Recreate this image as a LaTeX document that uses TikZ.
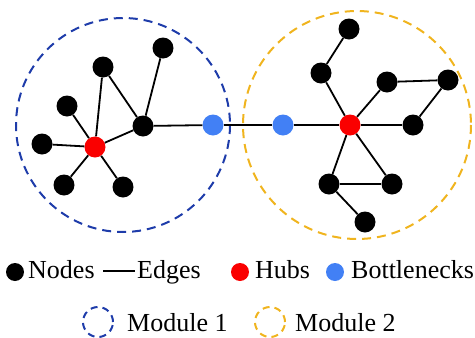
\documentclass[tikz,border=0pt]{standalone}
\usepackage{fontspec}
\setmainfont{Liberation Serif}
\definecolor{modblue}{RGB}{30,60,170}
\definecolor{modyellow}{RGB}{240,180,30}
\definecolor{hubred}{RGB}{250,0,0}
\definecolor{bnblue}{RGB}{66,128,245}
\begin{document}
\begin{tikzpicture}[x=1pt,y=-1pt,
  nd/.style={circle,fill=black,inner sep=0pt,minimum size=21pt},
  hub/.style={circle,fill=hubred,inner sep=0pt,minimum size=21pt},
  bn/.style={circle,fill=bnblue,inner sep=0pt,minimum size=21pt},
  edge/.style={line width=1.8pt,black},
  modone/.style={draw=modblue,dash pattern=on 9pt off 6pt,line width=2pt},
  modtwo/.style={draw=modyellow,dash pattern=on 9pt off 6pt,line width=2pt},
  lbl/.style={anchor=base west,inner sep=0pt,font=\fontsize{26}{30}\selectfont}]
\useasboundingbox (0,0) rectangle (475,338);
% modules
\draw[modone] (123,125) circle (107);
\draw[modtwo] (357,125) circle (114);
% left nodes
\node[nd] (a1) at (163,48) {};
\node[nd] (a2) at (103,67) {};
\node[nd] (a3) at (67,106) {};
\node[nd] (a4) at (143,126) {};
\node[nd] (a5) at (42,144) {};
\node[hub] (h1) at (95,147) {};
\node[nd] (a6) at (64,185) {};
\node[nd] (a7) at (123,187) {};
\node[bn] (b1) at (213,125) {};
% right nodes
\node[bn] (b2) at (283,125) {};
\node[hub] (h2) at (350,125) {};
\node[nd] (c1) at (349,29) {};
\node[nd] (c2) at (321,73) {};
\node[nd] (c3) at (387,82) {};
\node[nd] (c4) at (448,80) {};
\node[nd] (c5) at (413,125) {};
\node[nd] (c6) at (329,184) {};
\node[nd] (c7) at (392,184) {};
\node[nd] (c8) at (365,222) {};
% edges
\draw[edge] (a1) -- (a4);
\draw[edge] (a2) -- (a4);
\draw[edge] (a2) -- (h1);
\draw[edge] (a3) -- (h1);
\draw[edge] (a5) -- (h1);
\draw[edge] (a6) -- (h1);
\draw[edge] (a7) -- (h1);
\draw[edge] (h1) -- (a4);
\draw[edge] (a4) -- (b1);
\draw[edge] (b1) -- (b2);
\draw[edge] (b2) -- (h2);
\draw[edge] (c1) -- (c2);
\draw[edge] (c2) -- (h2);
\draw[edge] (h2) -- (c3);
\draw[edge] (c3) -- (c4);
\draw[edge] (c4) -- (c5);
\draw[edge] (h2) -- (c5);
\draw[edge] (h2) -- (c6);
\draw[edge] (h2) -- (c7);
\draw[edge] (c6) -- (c7);
\draw[edge] (c6) -- (c8);
% legend
\node[nd,minimum size=18pt] (ln) at (15,272) {};
\node[lbl] (tn) at (28,278) {Nodes};
\coordinate (e1) at (103,271);
\coordinate (e2) at (135,271);
\draw[line width=2pt] (e1) -- (e2);
\node[lbl] (te) at (137,278) {Edges};
\node[hub,minimum size=18pt] (lh) at (240,272) {};
\node[lbl] (th) at (255,278) {Hubs};
\node[bn,minimum size=18pt] (lb) at (335,272) {};
\node[lbl] (tb) at (351,278) {Bottlenecks};
\node[modone,circle,minimum size=30pt,inner sep=0pt,dash pattern=on 7pt off 5pt] (lm1) at (98,322) {};
\node[lbl] (tm1) at (127,331) {Module 1};
\node[modtwo,circle,minimum size=30pt,inner sep=0pt,dash pattern=on 7pt off 5pt] (lm2) at (270,322) {};
\node[lbl] (tm2) at (295,331) {Module 2};
\end{tikzpicture}
\end{document}
